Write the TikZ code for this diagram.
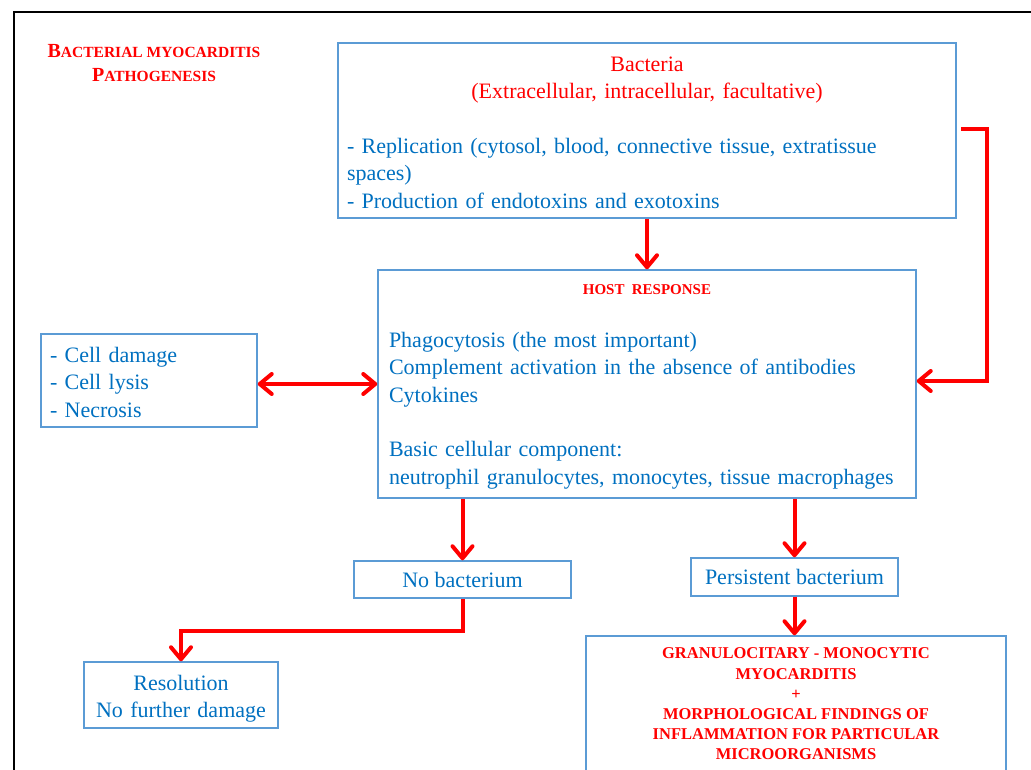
\documentclass[tikz,border=0pt]{standalone}
\usepackage{fontspec}
\setmainfont{Liberation Serif}
\usetikzlibrary{
    arrows.meta
}
\definecolor{txtblue}{HTML}{0070C0}
\definecolor{boxblue}{HTML}{5B9BD5}
\definecolor{arrred}{HTML}{FF0000}
\tikzset {
    box/.style = {
        draw = boxblue,
        line width = 1.5pt,
        inner sep = 0pt,
        text = txtblue,
        font = \fontsize{22}{27.3}\selectfont
    },
    redbold/.style = {
        text = arrred,
        font = \fontsize{16.5}{20.2}\selectfont\bfseries
    },
    arrowed/.style = {
        draw = arrred,
        line width = 4pt,
        -{Straight Barb[length = 12pt, width = 20pt, round]}
    },
    both arrowed/.style = {
        arrowed,
        {Straight Barb[length = 12pt, width = 20pt, round]}-{Straight Barb[length = 12pt, width = 20pt, round]}
    }
}
\newcommand{\bigfirst}[1]{{\fontsize{20}{24}\selectfont #1}}

\begin{document}
\begin{tikzpicture}[x = 1pt, y = -1pt]
    \useasboundingbox (0, 0) rectangle (1031, 769);
    \draw [line width = 2pt] (14, 800) |- (1060, 12);

    \node (title) [text = arrred, align = center,
        font = \fontsize{15.5}{24}\selectfont\bfseries] at (154, 63)
        {\bigfirst{B}ACTERIAL MYOCARDITIS\\\bigfirst{P}ATHOGENESIS};

    \node (bact) [box, minimum width = 618pt, minimum height = 175pt,
        text width = 600pt, align = left] at (647, 130.5) {%
        {\centering\color{arrred}\rule{0pt}{19pt}Bacteria\\
        (Extracellular, intracellular, facultative)\par}
        \vspace{27.3pt}
        - Replication (cytosol, blood, connective tissue, extratissue\\
        spaces)\\
        - Production of endotoxins and exotoxins};

    \node (host) [box, minimum width = 538pt, minimum height = 228pt,
        text width = 516pt, align = left] at (647, 384) {%
        {\centering\color{arrred}\fontsize{15}{18}\selectfont\bfseries
        \rule{0pt}{15pt}HOST RESPONSE\par}
        \vspace{26pt}
        Phagocytosis (the most important)\\
        Complement activation in the absence of antibodies\\
        Cytokines\par
        \vspace{27.3pt}
        Basic cellular component:\\
        neutrophil granulocytes, monocytes, tissue macrophages};

    \node (cells) [box, minimum width = 216pt, minimum height = 93pt,
        text width = 198pt, align = left] at (149, 380.5)
        {\rule{0pt}{19pt}- Cell damage\\- Cell lysis\\- Necrosis};

    \node (nobact) [box, minimum width = 217pt, minimum height = 37pt]
        at (462.5, 579.5) {No bacterium};
    \node (persist) [box, minimum width = 207pt, minimum height = 38pt]
        at (794.5, 577) {Persistent bacterium};
    \node (resol) [box, minimum width = 194pt, minimum height = 66pt,
        text width = 190pt, align = center] at (181, 695)
        {\rule{0pt}{23pt}Resolution\\No further damage};

    \node (gran) [box, redbold, minimum width = 420pt, minimum height = 136pt,
        align = center] at (796, 704) {%
        GRANULOCITARY - MONOCYTIC\\MYOCARDITIS\\+\\
        MORPHOLOGICAL FINDINGS OF\\INFLAMMATION FOR PARTICULAR\\
        MICROORGANISMS};

    \coordinate (loopstart) at (961, 129);
    \coordinate (loopturn) at (987, 129);

    \draw [arrowed] (bact.south) -- (host.north);
    \draw [arrowed] (loopstart) -- (loopturn) |- ([yshift = 3pt]host.east);
    \draw [both arrowed] (cells.east |- host.west) -- (host.west);
    \draw [arrowed] (nobact.north |- host.south) -- (nobact.north);
    \draw [arrowed] (persist.north |- host.south) -- (persist.north);
    \draw [arrowed] (persist.south) -- (persist.south |- gran.north);
    \draw [arrowed] (nobact.south) -- ++(0, 32) -| (resol.north);
\end{tikzpicture}
\end{document}
